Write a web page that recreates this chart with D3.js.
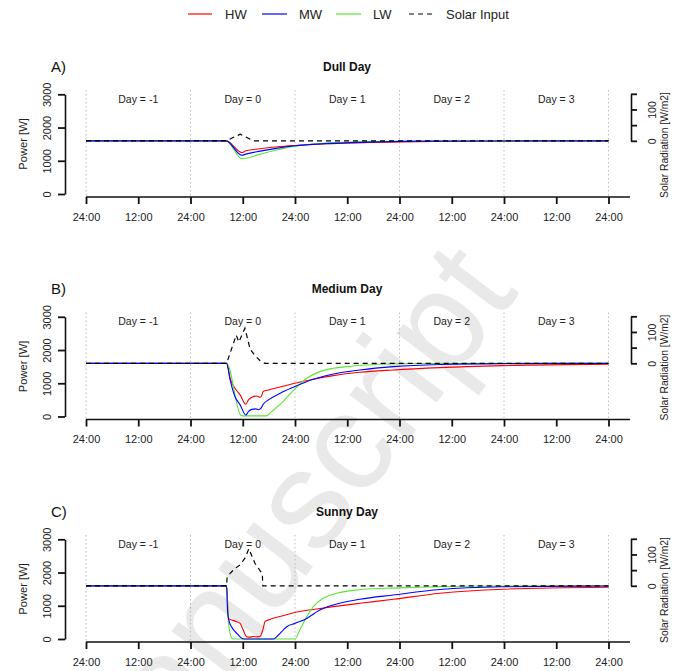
<!DOCTYPE html>
<html><head><meta charset="utf-8">
<script src="https://cdn.jsdelivr.net/npm/d3@7"></script>
<style>body{margin:0;background:#fff} svg{display:block;font-family:Arial,"Liberation Sans",sans-serif}</style>
</head><body><svg id="c" width="681" height="671"></svg>
<script>
// ---------- data (hours from start of Day -1; power in W; solar in W/m2) ----------
const tickHours = [0,12,24,36,48,60,72,84,96,108,120];
const tickLabels = ["24:00","12:00","24:00","12:00","24:00","12:00","24:00","12:00","24:00","12:00","24:00"];
const dayBounds = [0,24,48,72,96,120];
const dayLabels = ["Day = -1","Day = 0","Day = 1","Day = 2","Day = 3"];
const panelTags = ["A)","B)","C)"];
const panelTitles = ["Dull Day","Medium Day","Sunny Day"];
const powerTicks = [0,1000,2000,3000];
const solarTicks = [0,50,100,150];
const seriesNames = ["HW","MW","LW","Solar Input"];

const dullHW = [[0,1600],[32.2,1600],[35.8,1245],[36.7,1300],[40,1360],[44,1420],[48,1460],[55,1510],[65,1550],[80,1582],[100,1596],[120,1600]];
const dullMW = [[0,1600],[32.2,1600],[35.8,1165],[36.7,1200],[40,1290],[44,1380],[48,1450],[55,1515],[65,1560],[80,1590],[120,1600]];
const dullLW = [[0,1600],[32.2,1600],[35.8,1060],[40,1200],[44,1330],[48,1440],[55,1530],[65,1580],[80,1597],[120,1600]];
const dullSolar = [[0,0],[32.2,0],[35.4,21],[37.7,5],[38.5,0],[120,0]];

const medHW = [[0,1600],[32.3,1600],[33.1,1150],[34.2,850],[35.4,650],[36.7,370],[37.3,500],[38.1,580],[39.2,615],[40.0,580],[40.4,650],[40.7,750],[41.9,800],[45,900],[48,1000],[52.2,1120],[56.8,1230],[62.9,1330],[70.6,1400],[81.3,1470],[95.8,1530],[120,1575]];
const medMW = [[0,1600],[32.3,1600],[33.1,1100],[34.2,600],[35.4,350],[36.7,45],[37.3,150],[38.1,215],[39.0,230],[39.6,205],[40.2,250],[40.7,370],[41.9,500],[44.6,700],[47.6,880],[52.2,1120],[56.8,1280],[62.9,1400],[70.6,1500],[81.3,1565],[95.8,1592],[120,1600]];
const medLW = [[0,1600],[32.3,1600],[35.6,30],[36,20],[41.4,20],[42.6,145],[44.9,400],[47.6,780],[50.7,1150],[53.7,1350],[56.8,1450],[61.4,1520],[67.5,1570],[75.2,1595],[120,1600]];
const medSolar = [[0,0],[32.3,0],[34.5,90],[35.1,68],[36.5,112],[37.7,45],[38.8,25],[40,8],[41.1,0],[120,0]];

const sunHW = [[0,1600],[32.3,1600],[32.7,620],[33.5,570],[34.6,520],[35.4,470],[36.1,270],[36.9,70],[37.5,55],[38.5,75],[39.5,65],[40.0,80],[40.7,320],[41.1,520],[42.2,590],[44.9,690],[48.7,820],[52.2,890],[56.8,974],[62.9,1074],[70.6,1195],[81.3,1376],[95.8,1497],[120,1557]];
const sunMW = [[0,1600],[32.3,1600],[32.5,870],[32.8,570],[33.5,350],[34.2,230],[35.0,120],[35.8,20],[36.3,0],[43.0,0],[44.2,120],[45.3,270],[46.1,370],[48.0,470],[50.7,620],[53.7,870],[56.8,1024],[62.9,1195],[70.6,1325],[81.3,1490],[95.8,1570],[120,1595]];
const sunLW = [[0,1600],[32.3,1600],[32.7,550],[33.1,170],[33.5,20],[34,0],[48,0],[49.1,271],[50.7,673],[52.2,974],[54.5,1225],[57.6,1376],[62.2,1476],[69.1,1526],[76.7,1556],[81.3,1576],[95.8,1595],[120,1600]];
const sunSolar = [[0,0],[32.3,0],[32.4,25],[33.1,40],[34.2,55],[35.4,67],[36.5,88],[37.4,118],[38.8,72],[40.5,38],[40.6,0],[120,0]];

const panels = [
  {hw: dullHW, mw: dullMW, lw: dullLW, solar: dullSolar},
  {hw: medHW, mw: medMW, lw: medLW, solar: medSolar},
  {hw: sunHW, mw: sunMW, lw: sunLW, solar: sunSolar}
];

// ---------- styles ----------
const colors = {hw:"#ff0000", mw:"#0000ff", lw:"#55e833", solar:"#000000"};
const svg = d3.select("#c");

// watermark
svg.append("text")
  .attr("transform","translate(520,292) rotate(-53)")
  .attr("text-anchor","end")
  .attr("font-size",140)
  .attr("fill","#e9e9e9")
  .text("Manuscript");

// legend
const legItems = [
  {name:seriesNames[0], color:colors.hw, x1:188, x2:212, tx:225, dash:null},
  {name:seriesNames[1], color:colors.mw, x1:262, x2:287, tx:299, dash:null},
  {name:seriesNames[2], color:colors.lw, x1:336, x2:361, tx:373, dash:null},
  {name:seriesNames[3], color:colors.solar, x1:409, x2:435, tx:446, dash:"5,4"}
];
const leg = svg.append("g");
legItems.forEach(d=>{
  leg.append("line").attr("x1",d.x1).attr("x2",d.x2).attr("y1",14).attr("y2",14)
    .attr("stroke",d.color).attr("stroke-width",1.2).attr("stroke-dasharray",d.dash);
  leg.append("text").attr("x",d.tx).attr("y",18.5).attr("font-size",13).attr("fill","#222").text(d.name);
});

const x = d3.scaleLinear().domain([0,120]).range([86,608.5]);
const yP = d3.scaleLinear().domain([0,3000]).range([194,94.3]);
const yS = d3.scaleLinear().domain([0,150]).range([140.8,93.8]);

panels.forEach((p,i)=>{
  const g = svg.append("g").attr("transform",`translate(0,${i*222.5})`);
  // tag + title
  g.append("text").attr("x",51).attr("y",71.5).attr("font-size",15).attr("fill","#111").text(panelTags[i]);
  g.append("text").attr("x",347).attr("y",70.5).attr("text-anchor","middle").attr("font-size",12)
    .attr("font-weight","bold").attr("fill","#111").text(panelTitles[i]);
  // grid
  g.selectAll(".grid").data(dayBounds).join("line")
    .attr("x1",d=>x(d)).attr("x2",d=>x(d)).attr("y1",90).attr("y2",197)
    .attr("stroke","#bdbdbd").attr("stroke-width",1).attr("stroke-dasharray","1.5,2.5");
  // day labels
  g.selectAll(".day").data(dayLabels).join("text")
    .attr("x",(d,j)=>x(12+24*j)).attr("y",102.5).attr("text-anchor","middle")
    .attr("font-size",10.5).attr("fill","#222").text(d=>d);
  // series
  const line = d3.line().x(d=>x(d[0])).y(d=>yP(d[1])).curve(d3.curveMonotoneX);
  const sline = d3.line().x(d=>x(d[0])).y(d=>yS(d[1]));
  [["hw",p.hw],["lw",p.lw],["mw",p.mw]].forEach(([k,data])=>{
    g.append("path").datum(data).attr("d",line).attr("fill","none")
      .attr("stroke",colors[k]).attr("stroke-width",1.1);
  });
  g.append("path").datum(p.solar).attr("d",sline).attr("fill","none")
    .attr("stroke",colors.solar).attr("stroke-width",1.2).attr("stroke-dasharray","5,4");

  // bottom axis
  const ax = g.append("g").attr("transform","translate(0,197)")
    .call(d3.axisBottom(x).tickValues(tickHours).tickFormat((d,j)=>tickLabels[j]).tickSize(7).tickPadding(9).tickSizeOuter(0));
  ax.select(".domain").remove();
  ax.selectAll(".tick line").attr("stroke","#111").attr("stroke-width",1.8);
  ax.selectAll("text").attr("font-size",11).attr("fill","#222").attr("font-family",null);
  ax.append("line").attr("x1",x(0)).attr("x2",630).attr("y1",0).attr("y2",0).attr("stroke","#111").attr("stroke-width",1.6);

  // left axis
  const ay = g.append("g").attr("transform","translate(65,0)")
    .call(d3.axisLeft(yP).tickValues(powerTicks).tickFormat(d3.format("d")).tickSize(7).tickSizeOuter(0));
  ay.select(".domain").attr("stroke","#111").attr("stroke-width",1.6);
  ay.selectAll(".tick line").attr("stroke","#111").attr("stroke-width",1.8);
  ay.selectAll("text").attr("x",null).attr("dy",null).attr("text-anchor","middle")
    .attr("transform","translate(-14,0) rotate(-90)").attr("font-size",11).attr("fill","#222").attr("font-family",null);
  g.append("text").attr("transform","translate(26.5,144) rotate(-90)").attr("text-anchor","middle")
    .attr("font-size",11.2).attr("fill","#222").text("Power [W]");

  // right axis
  const ar = g.append("g").attr("transform","translate(631,0)")
    .call(d3.axisRight(yS).tickValues(solarTicks).tickSize(6).tickSizeOuter(0).tickFormat(d=>d%100===0?d:""));
  ar.select(".domain").attr("stroke","#111").attr("stroke-width",1.6);
  ar.selectAll(".tick line").attr("stroke","#111").attr("stroke-width",1.8);
  ar.selectAll("text").attr("x",null).attr("dy",null).attr("text-anchor","middle")
    .attr("transform","translate(24.5,0) rotate(-90)").attr("font-size",10.5).attr("fill","#222").attr("font-family",null);
  g.append("text").attr("transform","translate(668,145) rotate(-90)").attr("text-anchor","middle")
    .attr("font-size",10.3).attr("fill","#222").text("Solar Radiation [W/m2]");
});
</script></body></html>
